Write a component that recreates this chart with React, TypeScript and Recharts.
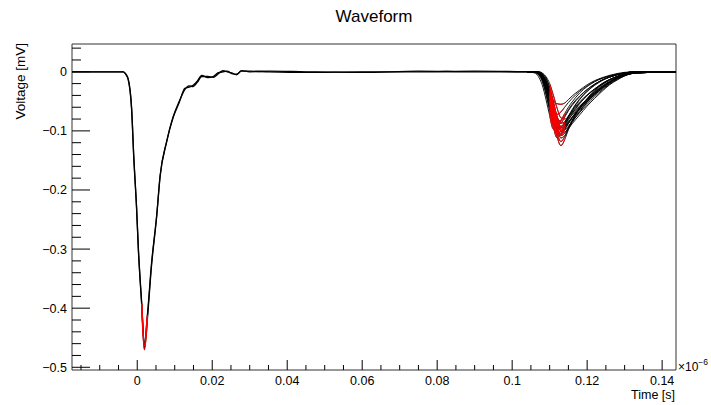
import { LineChart, Line, XAxis, YAxis, ReferenceArea } from 'recharts';

// ROOT-style waveform overlay: one big pulse near t=0 (all events overlap),
// a smaller pulse near 0.11 with spread amplitudes. Red = analysis window.

const X_MIN = -0.0174;
const X_MAX = 0.1437;
const Y_MIN = -0.5046;
const Y_MAX = 0.047;

const X_MAJOR = [0, 0.02, 0.04, 0.06, 0.08, 0.1, 0.12, 0.14];
const X_MINOR = [-0.015, -0.01, -0.005, 0.005, 0.01, 0.015, 0.025, 0.03, 0.035, 0.045, 0.05, 0.055,
  0.065, 0.07, 0.075, 0.085, 0.09, 0.095, 0.105, 0.11, 0.115, 0.125, 0.13, 0.135];
const Y_MAJOR = [0, -0.1, -0.2, -0.3, -0.4, -0.5];
const Y_MINOR = [0.04, 0.02, -0.02, -0.04, -0.06, -0.08, -0.12, -0.14, -0.16, -0.18, -0.22, -0.24, -0.26,
  -0.28, -0.32, -0.34, -0.36, -0.38, -0.42, -0.44, -0.46, -0.48];

// first pulse (time in 1e-6 s, voltage in mV)
const T_MAIN = [-0.0174, -0.006, -0.0037, -0.003, -0.0024, -0.0015, -0.0009, -0.0002, 0.0003, 0.0012, 0.0019,
  0.0027, 0.0038, 0.0052, 0.0061, 0.0078, 0.0096, 0.0112, 0.0127, 0.0138, 0.0149, 0.016, 0.0172, 0.0188,
  0.0203, 0.0215, 0.0229, 0.024, 0.0252, 0.0265, 0.0278, 0.03, 0.035, 0.045, 0.06, 0.075, 0.09, 0.104];
const V_MAIN_A = [0, 0, 0, -0.005, -0.0135, -0.064, -0.149, -0.228, -0.301, -0.396, -0.47,
  -0.419, -0.329, -0.244, -0.177, -0.12, -0.0755, -0.05, -0.03, -0.024, -0.025, -0.018, -0.008, -0.008,
  -0.0096, -0.004, 0.0017, 0, -0.002, -0.005, 0.002, 0, 0.001, 0, -0.001, 0.001, 0, 0];
const V_MAIN_B = [0, 0, 0, -0.004, -0.012, -0.061, -0.146, -0.226, -0.298, -0.392, -0.462,
  -0.412, -0.325, -0.242, -0.176, -0.119, -0.077, -0.052, -0.028, -0.026, -0.023, -0.016, -0.006, -0.01,
  -0.008, -0.002, 0, 0.001, -0.003, -0.004, 0.001, 0.001, 0, -0.001, 0, 0, 0.001, 0];

// second pulse, common time grid
const T_SECOND = [0.104, 0.106, 0.107, 0.108, 0.109, 0.11, 0.111, 0.112, 0.113, 0.114, 0.115, 0.116,
  0.118, 0.12, 0.122, 0.124, 0.126, 0.128, 0.13, 0.133, 0.1437];
const V_SECOND = [
  [0, 0, -0.002, -0.008, -0.025, -0.05, -0.082, -0.11, -0.125, -0.115, -0.098, -0.084, -0.062, -0.045, -0.031, -0.021, -0.013, -0.008, -0.004, -0.001, 0],
  [0, 0, -0.001, -0.006, -0.02, -0.045, -0.075, -0.104, -0.118, -0.11, -0.095, -0.082, -0.062, -0.046, -0.033, -0.022, -0.014, -0.008, -0.004, -0.001, 0],
  [0, -0.001, -0.004, -0.014, -0.036, -0.064, -0.094, -0.112, -0.106, -0.092, -0.078, -0.066, -0.047, -0.033, -0.022, -0.014, -0.009, -0.005, -0.002, 0, 0],
  [0, 0, -0.001, -0.005, -0.016, -0.036, -0.064, -0.092, -0.108, -0.104, -0.094, -0.083, -0.066, -0.051, -0.038, -0.027, -0.018, -0.011, -0.006, -0.002, 0],
  [0, 0, -0.003, -0.011, -0.03, -0.056, -0.084, -0.104, -0.1, -0.088, -0.075, -0.064, -0.046, -0.033, -0.023, -0.015, -0.009, -0.005, -0.002, 0, 0],
  [0, 0, -0.002, -0.007, -0.02, -0.042, -0.068, -0.09, -0.1, -0.094, -0.082, -0.071, -0.054, -0.04, -0.029, -0.02, -0.013, -0.008, -0.004, -0.001, 0],
  [0, -0.002, -0.008, -0.022, -0.046, -0.074, -0.097, -0.094, -0.083, -0.071, -0.06, -0.051, -0.036, -0.025, -0.017, -0.011, -0.007, -0.004, -0.002, 0, 0],
  [0, 0, 0, -0.003, -0.01, -0.026, -0.05, -0.077, -0.094, -0.093, -0.086, -0.077, -0.062, -0.048, -0.036, -0.026, -0.018, -0.011, -0.006, -0.002, 0],
  [0, -0.001, -0.003, -0.01, -0.026, -0.05, -0.074, -0.09, -0.087, -0.077, -0.066, -0.057, -0.042, -0.03, -0.021, -0.014, -0.009, -0.005, -0.002, 0, 0],
  [0, 0, -0.001, -0.005, -0.015, -0.033, -0.056, -0.076, -0.087, -0.085, -0.077, -0.068, -0.053, -0.04, -0.03, -0.021, -0.014, -0.008, -0.004, -0.001, 0],
  [0, 0, -0.002, -0.008, -0.022, -0.043, -0.066, -0.083, -0.082, -0.074, -0.064, -0.055, -0.041, -0.03, -0.021, -0.014, -0.009, -0.005, -0.002, 0, 0],
  [0, 0, 0, -0.002, -0.008, -0.02, -0.04, -0.062, -0.078, -0.08, -0.076, -0.07, -0.058, -0.046, -0.035, -0.025, -0.017, -0.01, -0.005, -0.002, 0],
  [0, -0.001, -0.004, -0.012, -0.028, -0.048, -0.065, -0.072, -0.068, -0.06, -0.052, -0.045, -0.033, -0.024, -0.016, -0.011, -0.007, -0.004, -0.002, 0, 0],
  [0, 0, -0.002, -0.008, -0.02, -0.036, -0.049, -0.054, -0.055, -0.053, -0.047, -0.041, -0.031, -0.022, -0.015, -0.01, -0.006, -0.003, -0.001, 0, 0],
  [0, 0, -0.001, -0.004, -0.014, -0.032, -0.058, -0.084, -0.1, -0.099, -0.092, -0.084, -0.069, -0.055, -0.042, -0.031, -0.021, -0.013, -0.007, -0.002, 0],
  [0, 0, -0.002, -0.009, -0.026, -0.052, -0.08, -0.1, -0.104, -0.097, -0.088, -0.079, -0.063, -0.049, -0.037, -0.026, -0.017, -0.01, -0.005, -0.001, 0],
  [0, 0, -0.001, -0.006, -0.019, -0.04, -0.066, -0.088, -0.095, -0.092, -0.085, -0.077, -0.063, -0.05, -0.039, -0.029, -0.02, -0.012, -0.006, -0.002, 0],
  [0, 0, -0.003, -0.012, -0.032, -0.06, -0.088, -0.106, -0.108, -0.098, -0.087, -0.077, -0.06, -0.046, -0.034, -0.024, -0.016, -0.009, -0.004, -0.001, 0],
  [0, 0, 0, -0.003, -0.011, -0.028, -0.054, -0.082, -0.1, -0.102, -0.096, -0.088, -0.073, -0.058, -0.045, -0.033, -0.022, -0.014, -0.007, -0.002, 0],
  [0, -0.001, -0.005, -0.016, -0.038, -0.066, -0.09, -0.1, -0.095, -0.085, -0.075, -0.066, -0.051, -0.039, -0.029, -0.02, -0.013, -0.008, -0.004, -0.001, 0],
  [0, 0, -0.002, -0.007, -0.02, -0.041, -0.066, -0.086, -0.092, -0.088, -0.08, -0.073, -0.059, -0.047, -0.036, -0.026, -0.018, -0.011, -0.006, -0.002, 0],
  [0, 0, -0.001, -0.005, -0.017, -0.039, -0.068, -0.096, -0.112, -0.108, -0.097, -0.086, -0.068, -0.052, -0.039, -0.028, -0.019, -0.011, -0.006, -0.002, 0],
];

// time windows drawn in red
const RED_WINDOWS = [[0.0011, 0.0029], [0.1095, 0.1142]];

const FONT = '"Liberation Sans", Arial, Helvetica, sans-serif';

const toPts = (ts: number[], vs: number[]) => ts.map((t, i) => ({ t, v: vs[i] }));
const inRed = (p: { t: number }) => RED_WINDOWS.some(([a, b]) => p.t >= a && p.t <= b);

const traces = [
  toPts(T_MAIN, V_MAIN_A),
  toPts(T_MAIN, V_MAIN_B),
  ...V_SECOND.map((vs) => toPts(T_SECOND, vs)),
];

const fmt = (v: number) => (v === 0 ? '0' : String(v).replace('-', '\u2212'));

function XTick(props: any) {
  const { x, y, payload } = props;
  const major = X_MAJOR.includes(payload.value);
  return (
    <g>
      <line x1={x} x2={x} y1={y} y2={y - (major ? 10 : 5)} stroke="#000" strokeWidth={1} />
      {major && (
        <text x={x} y={y + 15} textAnchor="middle" fontSize={12.5} fontFamily={FONT} fill="#000">
          {fmt(payload.value)}
        </text>
      )}
    </g>
  );
}

function YTick(props: any) {
  const { x, y, payload } = props;
  const major = Y_MAJOR.includes(payload.value);
  return (
    <g>
      <line x1={x} x2={x + (major ? 18 : 9)} y1={y} y2={y} stroke="#000" strokeWidth={1} />
      {major && (
        <text x={x - 5} y={y + 4.5} textAnchor="end" fontSize={12.5} fontFamily={FONT} fill="#000">
          {fmt(payload.value)}
        </text>
      )}
    </g>
  );
}

export default function App() {
  return (
    <div style={{ position: 'absolute', left: 0, top: 0, width: 711, height: 405, background: '#fff' }}>
      <LineChart width={711} height={405} margin={{ top: 44, right: 35, bottom: 5, left: 0 }}>
        <XAxis type="number" dataKey="t" domain={[X_MIN, X_MAX]} allowDataOverflow
          ticks={[...X_MAJOR, ...X_MINOR]} interval={0} tick={XTick} tickSize={0} tickMargin={0}
          axisLine={false} tickLine={false} height={30} />
        <YAxis type="number" dataKey="v" domain={[Y_MIN, Y_MAX]} allowDataOverflow
          ticks={[...Y_MAJOR, ...Y_MINOR]} interval={0} tick={YTick} tickSize={0} tickMargin={0}
          axisLine={false} tickLine={false} width={72} />
        <ReferenceArea x1={X_MIN} x2={X_MAX} y1={Y_MIN} y2={Y_MAX} fill="none" fillOpacity={0}
          stroke="#333" strokeWidth={1} ifOverflow="visible" />
        {traces.map((pts, i) => (
          <Line key={'k' + i} data={pts} dataKey="v" type="monotone" stroke="#000"
            strokeWidth={i < 2 ? 1.3 : 0.9} dot={false} isAnimationActive={false} />
        ))}
        {traces.map((pts, i) => (
          <Line key={'r' + i} data={pts.filter(inRed)} dataKey="v" type="monotone" stroke="#ff0000"
            strokeWidth={i < 2 ? 1.5 : 0.9} dot={false} isAnimationActive={false} />
        ))}
      </LineChart>
      <svg width={711} height={405} style={{ position: 'absolute', left: 0, top: 0, pointerEvents: 'none' }}
        fontFamily={FONT}>
        <text x={374} y={22} textAnchor="middle" fontSize={17} fill="#000">Waveform</text>
        <text x={675} y={399} textAnchor="end" fontSize={12.5} fill="#000">Time [s]</text>
        <text x={678} y={371} fontSize={12} fill="#000">
          ×10<tspan dy={-6} fontSize={8.5}>−6</tspan>
        </text>
        <text x={25} y={43} textAnchor="end" fontSize={13.5} fill="#000" transform="rotate(-90 25 43)">
          Voltage [mV]
        </text>
      </svg>
    </div>
  );
}
